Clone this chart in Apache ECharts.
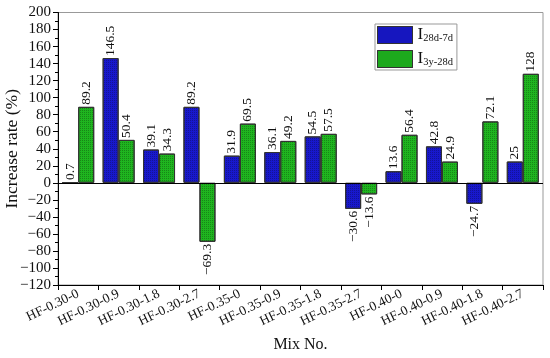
<!DOCTYPE html>
<html><head><meta charset="utf-8">
<script src="https://cdn.jsdelivr.net/npm/echarts@6/dist/echarts.min.js"></script>
<style>html,body{margin:0;padding:0;background:#fff}#c{width:550px;height:358px}</style>
</head><body><div id="c"></div>
<script>
var categories = ['HF-0.30-0','HF-0.30-0.9','HF-0.30-1.8','HF-0.30-2.7','HF-0.35-0','HF-0.35-0.9','HF-0.35-1.8','HF-0.35-2.7','HF-0.40-0','HF-0.40-0.9','HF-0.40-1.8','HF-0.40-2.7'];
var seriesNames = ['I28d-7d','I3y-28d'];
var i28d7d = [0.7,146.5,39.1,89.2,31.9,36.1,54.5,-30.6,13.6,42.8,-24.7,25];
var i3y28d = [89.2,50.4,34.3,-69.3,69.5,49.2,57.5,-13.6,56.4,24.9,72.1,128];
var yTicks = {min:-120, max:200, interval:20};

var FONT = '"Liberation Serif","Times New Roman",serif';
function fmtNum(v){ return String(v).replace('-', '\u2212'); }
function mkData(arr){
  return arr.map(function(v){
    var neg = v < 0;
    return {value:v, label:{position: neg ? 'bottom':'top', align: neg ? 'right':'left', distance: 2}};
  });
}
function mkSeries(name, arr, color){
  return {
    name:name, type:'bar', data:mkData(arr), barWidth:16, barGap:'0%',
    itemStyle:{color:color, borderColor:'#333', borderWidth:1,
      decal:{symbol:'rect', symbolSize:1, dashArrayX:[1,1], dashArrayY:[1,1], color:'rgba(0,0,0,0.25)'}},
    label:{show:true, rotate:90, verticalAlign:'middle', fontFamily:FONT, fontSize:13.5, color:'#111',
      formatter:function(p){ return fmtNum(p.value); }},
    emphasis:{disabled:true}
  };
}
var chart = echarts.init(document.getElementById('c'), null, {renderer:'canvas'});
chart.setOption({
  animation:false,
  grid:{left:58, right:7, top:12.5, bottom:73, show:true, borderColor:'#999', borderWidth:1,
    containLabel:false, outerBoundsMode:'none'},
  legend:{
    left:375, top:24, orient:'vertical', itemWidth:35, itemHeight:17, itemGap:6,
    padding:[2,4,2,2], borderColor:'#999', borderWidth:1, icon:'rect',
    itemStyle:{borderColor:'#333', borderWidth:1},
    formatter:function(n){ var base=n.charAt(0), sub=n.slice(1); return '{b|'+base+'}{s|'+sub+'}'; },
    textStyle:{fontFamily:FONT, color:'#111', rich:{
      b:{fontFamily:FONT, fontSize:17, color:'#111', lineHeight:17, verticalAlign:'bottom'},
      s:{fontFamily:FONT, fontSize:10.5, color:'#111', lineHeight:17, verticalAlign:'bottom', padding:[6,0,0,0]}
    }}
  },
  xAxis:{
    type:'category', data:categories, name:'Mix No.', nameLocation:'middle', nameGap:52,
    nameMoveOverlap:false,
    nameTextStyle:{fontFamily:FONT, fontSize:16, color:'#111'},
    axisLine:{onZero:false, lineStyle:{color:'#000', width:1}},
    axisTick:{show:true, alignWithLabel:false, length:5, lineStyle:{color:'#000'}},
    axisLabel:{rotate:26, interval:0, fontFamily:FONT, fontSize:13.5, color:'#111', margin:8},
    splitLine:{show:false}
  },
  yAxis:{
    type:'value', min:yTicks.min, max:yTicks.max, interval:yTicks.interval,
    name:'Increase rate (%)', nameLocation:'middle', nameGap:37, nameMoveOverlap:false,
    nameTextStyle:{fontFamily:FONT, fontSize:17.5, color:'#111'},
    axisLine:{show:true, lineStyle:{color:'#000'}},
    axisTick:{show:true, length:5, lineStyle:{color:'#000'}},
    minorTick:{show:true, splitNumber:2, length:3, lineStyle:{color:'#000'}},
    axisLabel:{fontFamily:FONT, fontSize:15, color:'#111', margin:7,
      formatter:function(v){ return fmtNum(v); }},
    splitLine:{show:false}
  },
  series:[
    mkSeries(seriesNames[0], i28d7d, '#1818cc'),
    mkSeries(seriesNames[1], i3y28d, '#1fb51f'),
    {type:'line', data:categories.map(function(){return 0;}), symbol:'none', silent:true,
     lineStyle:{width:0}, markLine:{silent:true, symbol:'none', label:{show:false},
       lineStyle:{color:'#000', width:1, type:'solid'}, data:[{yAxis:0}]}}
  ]
});
</script></body></html>
